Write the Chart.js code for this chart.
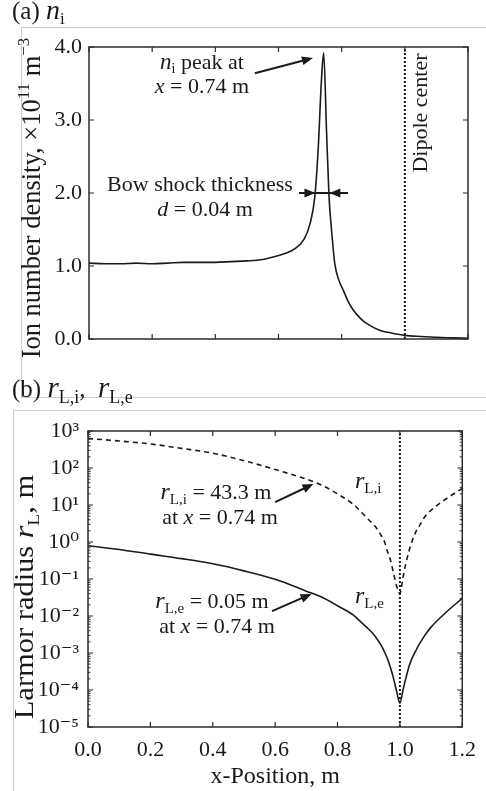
<!DOCTYPE html>
<html><head><meta charset="utf-8">
<script src="https://cdn.jsdelivr.net/npm/chart.js@4.4.1/dist/chart.umd.min.js"></script>
<style>
body{margin:0;background:#fff;width:486px;height:791px;overflow:hidden;position:relative;font-family:"Liberation Serif",serif;}
canvas{position:absolute;left:0;}
#ca{top:0;}
#cb{top:370px;}
.g{position:absolute;background:#cdcdcd;}
</style></head><body>
<div class="g" style="left:21px;top:27px;width:465px;height:1px"></div>
<div class="g" style="left:21px;top:27px;width:1px;height:370px"></div>
<div class="g" style="left:21px;top:397px;width:465px;height:1px"></div>
<div class="g" style="left:13px;top:410px;width:473px;height:1px"></div>
<div class="g" style="left:13px;top:410px;width:1px;height:381px"></div>
<canvas id="ca" width="486" height="370"></canvas>
<canvas id="cb" width="486" height="421"></canvas>
<script>
// ---------- Panel (a): ion number density ----------
const xA = [0, 0.05, 0.1, 0.15, 0.2, 0.25, 0.3, 0.35, 0.4, 0.45, 0.5, 0.55, 0.58, 0.62, 0.65, 0.68, 0.70, 0.715, 0.726, 0.736, 0.743, 0.752, 0.760, 0.768, 0.778, 0.79, 0.805, 0.82, 0.836, 0.86, 0.88, 0.92, 0.96, 1.0, 1.05, 1.1, 1.15, 1.2];
const nI = [1.04, 1.03, 1.03, 1.04, 1.03, 1.04, 1.05, 1.05, 1.05, 1.06, 1.07, 1.09, 1.12, 1.17, 1.23, 1.36, 1.58, 1.95, 2.63, 3.55, 3.92, 2.86, 1.95, 1.49, 1.04, 0.82, 0.67, 0.52, 0.40, 0.28, 0.21, 0.12, 0.08, 0.05, 0.035, 0.025, 0.015, 0.01];
const xTicksA = [0, 0.2, 0.4, 0.6, 0.8, 1.0, 1.2];
const yTicksA = [0, 1, 2, 3, 4];
const dipoleX = 1.0;

// ---------- Panel (b): Larmor radii ----------
const xB = [0, 0.1, 0.2, 0.3, 0.4, 0.5, 0.6, 0.7, 0.75, 0.8, 0.85, 0.88, 0.9, 0.92, 0.94, 0.95, 0.96, 0.97, 0.98, 0.99, 1.0, 1.01, 1.02, 1.03, 1.04, 1.05, 1.06, 1.08, 1.1, 1.15, 1.2];
const rLi = [630, 537, 447, 339, 251, 158, 91, 50, 34, 20, 10.5, 6.0, 4.0, 2.7, 1.5, 1.05, 0.56, 0.32, 0.14, 0.063, 0.04, 0.11, 0.28, 0.6, 1.1, 1.8, 2.5, 4.8, 7.2, 15, 28];
const rLe = [0.79, 0.63, 0.47, 0.355, 0.257, 0.166, 0.098, 0.047, 0.032, 0.019, 0.0107, 0.0063, 0.0044, 0.0029, 0.0016, 0.0011, 0.00071, 0.0004, 0.0002, 0.000089, 0.000044, 0.0001, 0.00022, 0.00045, 0.00075, 0.0011, 0.0016, 0.003, 0.005, 0.013, 0.030];
const xTicksB = [0, 0.2, 0.4, 0.6, 0.8, 1.0, 1.2];
const yTicksB = [1e-5, 1e-4, 1e-3, 1e-2, 1e-1, 1e0, 1e1, 1e2, 1e3];
const yLabelsB = ['10⁻⁵', '10⁻⁴', '10⁻³', '10⁻²', '10⁻¹', '10⁰', '10¹', '10²', '10³'];

const INK = '#1a1a1a';
const FONT = '"Liberation Serif", "DejaVu Serif", serif';

function pts(xs, ys) { return xs.map((x, i) => ({x, y: ys[i]})); }

function rich(ctx, segs, x, y, align, rot, stretch) {
  ctx.save();
  ctx.translate(x, y);
  if (rot) ctx.rotate(rot);
  if (stretch) ctx.scale(stretch, 1);
  ctx.textBaseline = 'alphabetic';
  ctx.textAlign = 'left';
  ctx.fillStyle = INK;
  let w = 0;
  const ws = segs.map(s => { ctx.font = (s[2] || '') + ' ' + s[1] + 'px ' + FONT; const m = ctx.measureText(s[0]).width; w += m; return m; });
  let cx = align === 'center' ? -w / 2 : (align === 'right' ? -w : 0);
  segs.forEach((s, i) => { ctx.font = (s[2] || '') + ' ' + s[1] + 'px ' + FONT; ctx.fillText(s[0], cx, s[3] || 0); cx += ws[i]; });
  ctx.restore();
}

function arrow(ctx, x1, y1, x2, y2) {
  const a = Math.atan2(y2 - y1, x2 - x1), L = 11, H = 4.5;
  ctx.save();
  ctx.strokeStyle = INK; ctx.fillStyle = INK; ctx.lineWidth = 2;
  ctx.beginPath(); ctx.moveTo(x1, y1); ctx.lineTo(x2 - L * 0.8 * Math.cos(a), y2 - L * 0.8 * Math.sin(a)); ctx.stroke();
  ctx.beginPath();
  ctx.moveTo(x2, y2);
  ctx.lineTo(x2 - L * Math.cos(a) + H * Math.sin(a), y2 - L * Math.sin(a) - H * Math.cos(a));
  ctx.lineTo(x2 - L * Math.cos(a) - H * Math.sin(a), y2 - L * Math.sin(a) + H * Math.cos(a));
  ctx.closePath(); ctx.fill();
  ctx.restore();
}

function frame(chart, xt, yt, yMinor) {
  const {ctx, chartArea: a, scales: {x, y}} = chart;
  ctx.save();
  ctx.strokeStyle = '#2b2b2b'; ctx.lineWidth = 1.5;
  ctx.strokeRect(a.left, a.top, a.right - a.left, a.bottom - a.top);
  ctx.lineWidth = 1.2;
  ctx.beginPath();
  xt.forEach(v => { const p = x.getPixelForValue(v); ctx.moveTo(p, a.bottom); ctx.lineTo(p, a.bottom - 5); ctx.moveTo(p, a.top); ctx.lineTo(p, a.top + 5); });
  yt.forEach(v => { const p = y.getPixelForValue(v); ctx.moveTo(a.left, p); ctx.lineTo(a.left + 5, p); ctx.moveTo(a.right, p); ctx.lineTo(a.right - 5, p); });
  ctx.stroke();
  if (yMinor) {
    ctx.lineWidth = 1;
    ctx.beginPath();
    yMinor.forEach(v => { const p = y.getPixelForValue(v); ctx.moveTo(a.left, p); ctx.lineTo(a.left + 2.5, p); ctx.moveTo(a.right, p); ctx.lineTo(a.right - 2.5, p); });
    ctx.stroke();
  }
  ctx.restore();
}

const annA = {
  id: 'annA',
  afterDraw(chart) {
    const {ctx, scales: {x, y}} = chart;
    frame(chart, xTicksA, yTicksA);
    rich(ctx, [['(a) ', 25], ['n', 28, 'italic'], ['i', 17, '', 5]], 12, 19, 'left');
    rich(ctx, [['Ion number density, ×10', 26.5], ['11', 17, '', -11], [' m', 26.5], ['−3', 17, '', -11]], 40, 198, 'center', -Math.PI / 2);
    rich(ctx, [['n', 23, 'italic'], ['i', 14, '', 4], [' peak at', 22]], 202, 69, 'center');
    rich(ctx, [['x', 22, 'italic'], [' = 0.74 m', 22]], 202, 93, 'center');
    arrow(ctx, x.getPixelForValue(0.525), y.getPixelForValue(3.64), x.getPixelForValue(0.709), y.getPixelForValue(3.85));
    rich(ctx, [['Bow shock thickness', 22]], 200, 191, 'center');
    rich(ctx, [['d', 22, 'italic'], [' = 0.04 m', 22]], 205, 216, 'center');
    const yb = y.getPixelForValue(2.0);
    ctx.save(); ctx.strokeStyle = INK; ctx.lineWidth = 2; ctx.beginPath();
    ctx.moveTo(x.getPixelForValue(0.665), yb); ctx.lineTo(x.getPixelForValue(0.82), yb); ctx.stroke(); ctx.restore();
    arrow(ctx, x.getPixelForValue(0.665), yb, x.getPixelForValue(0.717), yb);
    arrow(ctx, x.getPixelForValue(0.82), yb, x.getPixelForValue(0.761), yb);
    rich(ctx, [['Dipole center', 22]], 427, 113, 'center', -Math.PI / 2);
  }
};

const minorB = [];
for (let e = -5; e < 3; e++) for (let k = 2; k <= 9; k++) minorB.push(k * Math.pow(10, e));

const annB = {
  id: 'annB',
  afterDraw(chart) {
    const {ctx, scales: {x, y}} = chart;
    frame(chart, xTicksB, yTicksB, minorB);
    rich(ctx, [['(b) ', 25], ['r', 29, 'italic'], ['L,i', 18, '', 6], [',  ', 25], ['r', 29, 'italic'], ['L,e', 18, '', 6]], 12, 27, 'left');
    rich(ctx, [['Larmor radius ', 26.5], ['r', 28, 'italic'], ['L', 17, '', 6], [', m', 26.5]], 33, 227, 'center', -Math.PI / 2, 1.15);
    rich(ctx, [['r', 24, 'italic'], ['L,i', 15, '', 5], [' = 43.3 m', 22]], 216, 129, 'center');
    rich(ctx, [['at ', 22], ['x', 22, 'italic'], [' = 0.74 m', 22]], 220, 154, 'center');
    arrow(ctx, x.getPixelForValue(0.600), y.getPixelForValue(12.0), x.getPixelForValue(0.723), y.getPixelForValue(37));
    rich(ctx, [['r', 24, 'italic'], ['L,i', 15, '', 5]], 355, 118, 'left');
    rich(ctx, [['r', 24, 'italic'], ['L,e', 15, '', 5], [' = 0.05 m', 22]], 212, 238, 'center');
    rich(ctx, [['at ', 22], ['x', 22, 'italic'], [' = 0.74 m', 22]], 217, 263, 'center');
    arrow(ctx, x.getPixelForValue(0.590), y.getPixelForValue(0.0136), x.getPixelForValue(0.717), y.getPixelForValue(0.0394));
    rich(ctx, [['r', 24, 'italic'], ['L,e', 15, '', 5]], 355, 233, 'left');
  }
};

const tickFont = {family: FONT, size: 22};

new Chart(document.getElementById('ca'), {
  type: 'line',
  data: {datasets: [
    {data: pts(xA, nI), borderColor: INK, borderWidth: 1.6, pointRadius: 0, cubicInterpolationMode: 'monotone'},
    {data: [{x: dipoleX, y: yTicksA[0]}, {x: dipoleX, y: yTicksA[yTicksA.length - 1]}], borderColor: INK, borderWidth: 2, borderDash: [2, 2], pointRadius: 0}
  ]},
  options: {
    responsive: false, animation: false, devicePixelRatio: 1,
    layout: {padding: {left: 0, right: 18, top: 47, bottom: 31}},
    plugins: {legend: {display: false}, tooltip: {enabled: false}},
    scales: {
      x: {type: 'linear', display: false, min: 0, max: 1.2},
      y: {type: 'linear', min: 0, max: 4,
          afterFit: s => { s.width = 89; },
          afterBuildTicks: s => { s.ticks = yTicksA.map(v => ({value: v})); },
          grid: {display: false, drawTicks: false}, border: {display: false},
          ticks: {padding: 7, color: INK, font: tickFont, callback: v => Number(v).toFixed(1)}}
    }
  },
  plugins: [annA]
});

new Chart(document.getElementById('cb'), {
  type: 'line',
  data: {datasets: [
    {data: pts(xB, rLi), borderColor: INK, borderWidth: 1.6, borderDash: [5, 4], pointRadius: 0, cubicInterpolationMode: 'monotone'},
    {data: pts(xB, rLe), borderColor: INK, borderWidth: 1.6, pointRadius: 0, cubicInterpolationMode: 'monotone'},
    {data: [{x: dipoleX, y: yTicksB[0]}, {x: dipoleX, y: yTicksB[yTicksB.length - 1]}], borderColor: INK, borderWidth: 2, borderDash: [2, 2], pointRadius: 0}
  ]},
  options: {
    responsive: false, animation: false, devicePixelRatio: 1,
    layout: {padding: {left: 0, right: 18, top: 61, bottom: 0}},
    plugins: {legend: {display: false}, tooltip: {enabled: false}},
    scales: {
      x: {type: 'linear', min: 0, max: 1.2,
          afterFit: s => { s.height = 64; },
          afterBuildTicks: s => { s.ticks = xTicksB.map(v => ({value: v})); },
          grid: {display: false, drawTicks: false}, border: {display: false},
          ticks: {padding: 10, color: INK, font: tickFont, maxRotation: 0, callback: v => Number(v).toFixed(1)},
          title: {display: true, text: 'x-Position, m', color: INK, font: {family: FONT, size: 24}, padding: {top: 0, bottom: 0}}},
      y: {type: 'logarithmic', min: 1e-5, max: 1e3,
          afterFit: s => { s.width = 88; },
          afterBuildTicks: s => { s.ticks = yTicksB.map(v => ({value: v})); },
          grid: {display: false, drawTicks: false}, border: {display: false},
          ticks: {padding: 9, color: INK, font: tickFont, callback: (v, i) => yLabelsB[i]}}
    }
  },
  plugins: [annB]
});
</script>
</body></html>
